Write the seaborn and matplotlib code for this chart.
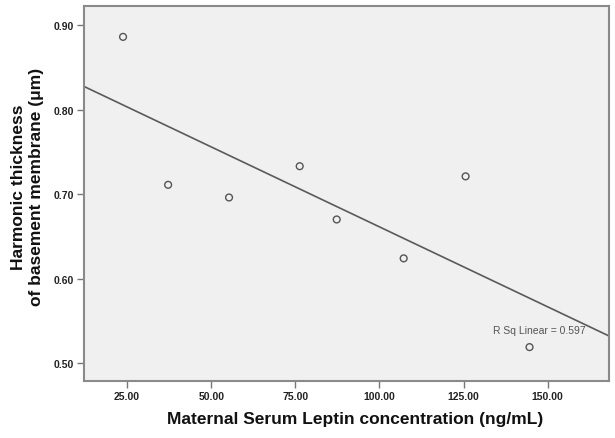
import numpy as np
import pandas as pd
import matplotlib
matplotlib.use("Agg")
import matplotlib.pyplot as plt
import seaborn as sns

# Values
leptin = [23.8, 37.2, 55.3, 76.3, 87.3, 107.2, 125.6, 144.6]
thickness = [0.886, 0.711, 0.696, 0.733, 0.670, 0.624, 0.721, 0.519]
x_ticks = [25, 50, 75, 100, 125, 150]
y_ticks = [0.50, 0.60, 0.70, 0.80, 0.90]
r_sq_text = "R Sq Linear = 0.597"

df = pd.DataFrame({"leptin": leptin, "thickness": thickness})

sns.set_style("white")
plt.rcParams["font.family"] = ["Liberation Sans", "DejaVu Sans"]

fig = plt.figure(figsize=(6.15, 4.39), dpi=100)
ax = fig.add_axes([0.1366, 0.130, 0.853, 0.854])
ax.set_facecolor("#f0f0f0")
ax.set_xlim(12.2, 168.1)
ax.set_ylim(0.479, 0.9225)

# regression line across the full axis width (truncate=False uses current xlim)
sns.regplot(data=df, x="leptin", y="thickness", ax=ax, ci=None, truncate=False,
            scatter=False, line_kws={"color": "#5a5a5a", "linewidth": 1.2})
sns.scatterplot(data=df, x="leptin", y="thickness", ax=ax, marker="o", s=24,
                facecolor="none", edgecolor="#555555", linewidth=1.0, zorder=3)

ax.set_xticks(x_ticks)
ax.set_xticklabels([f"{v:.2f}" for v in x_ticks])
ax.set_yticks(y_ticks)
ax.set_yticklabels([f"{v:.2f}" for v in y_ticks])
ax.tick_params(axis="both", direction="out", length=5, width=1, color="#777777",
               labelsize=7.5, labelcolor="#222222", pad=2, bottom=True, left=True)
for lbl in ax.get_xticklabels() + ax.get_yticklabels():
    lbl.set_fontweight("bold")

for sp in ax.spines.values():
    sp.set_color("#8a8a8a")
    sp.set_linewidth(1.5)

ax.text(147.6, 0.539, r_sq_text, ha="center", va="center", fontsize=7.5, color="#555555")

ax.set_xlabel("Maternal Serum Leptin concentration (ng/mL)", fontsize=12.5,
              fontweight="bold", color="#111111")
ax.set_ylabel("Harmonic thickness\nof basement membrane (μm)", fontsize=12.5,
              fontweight="bold", color="#111111")
ax.xaxis.set_label_coords(0.516, -0.08)
ax.yaxis.set_label_coords(-0.077, 0.52)

fig.savefig("out.png", dpi=100, facecolor="white")
